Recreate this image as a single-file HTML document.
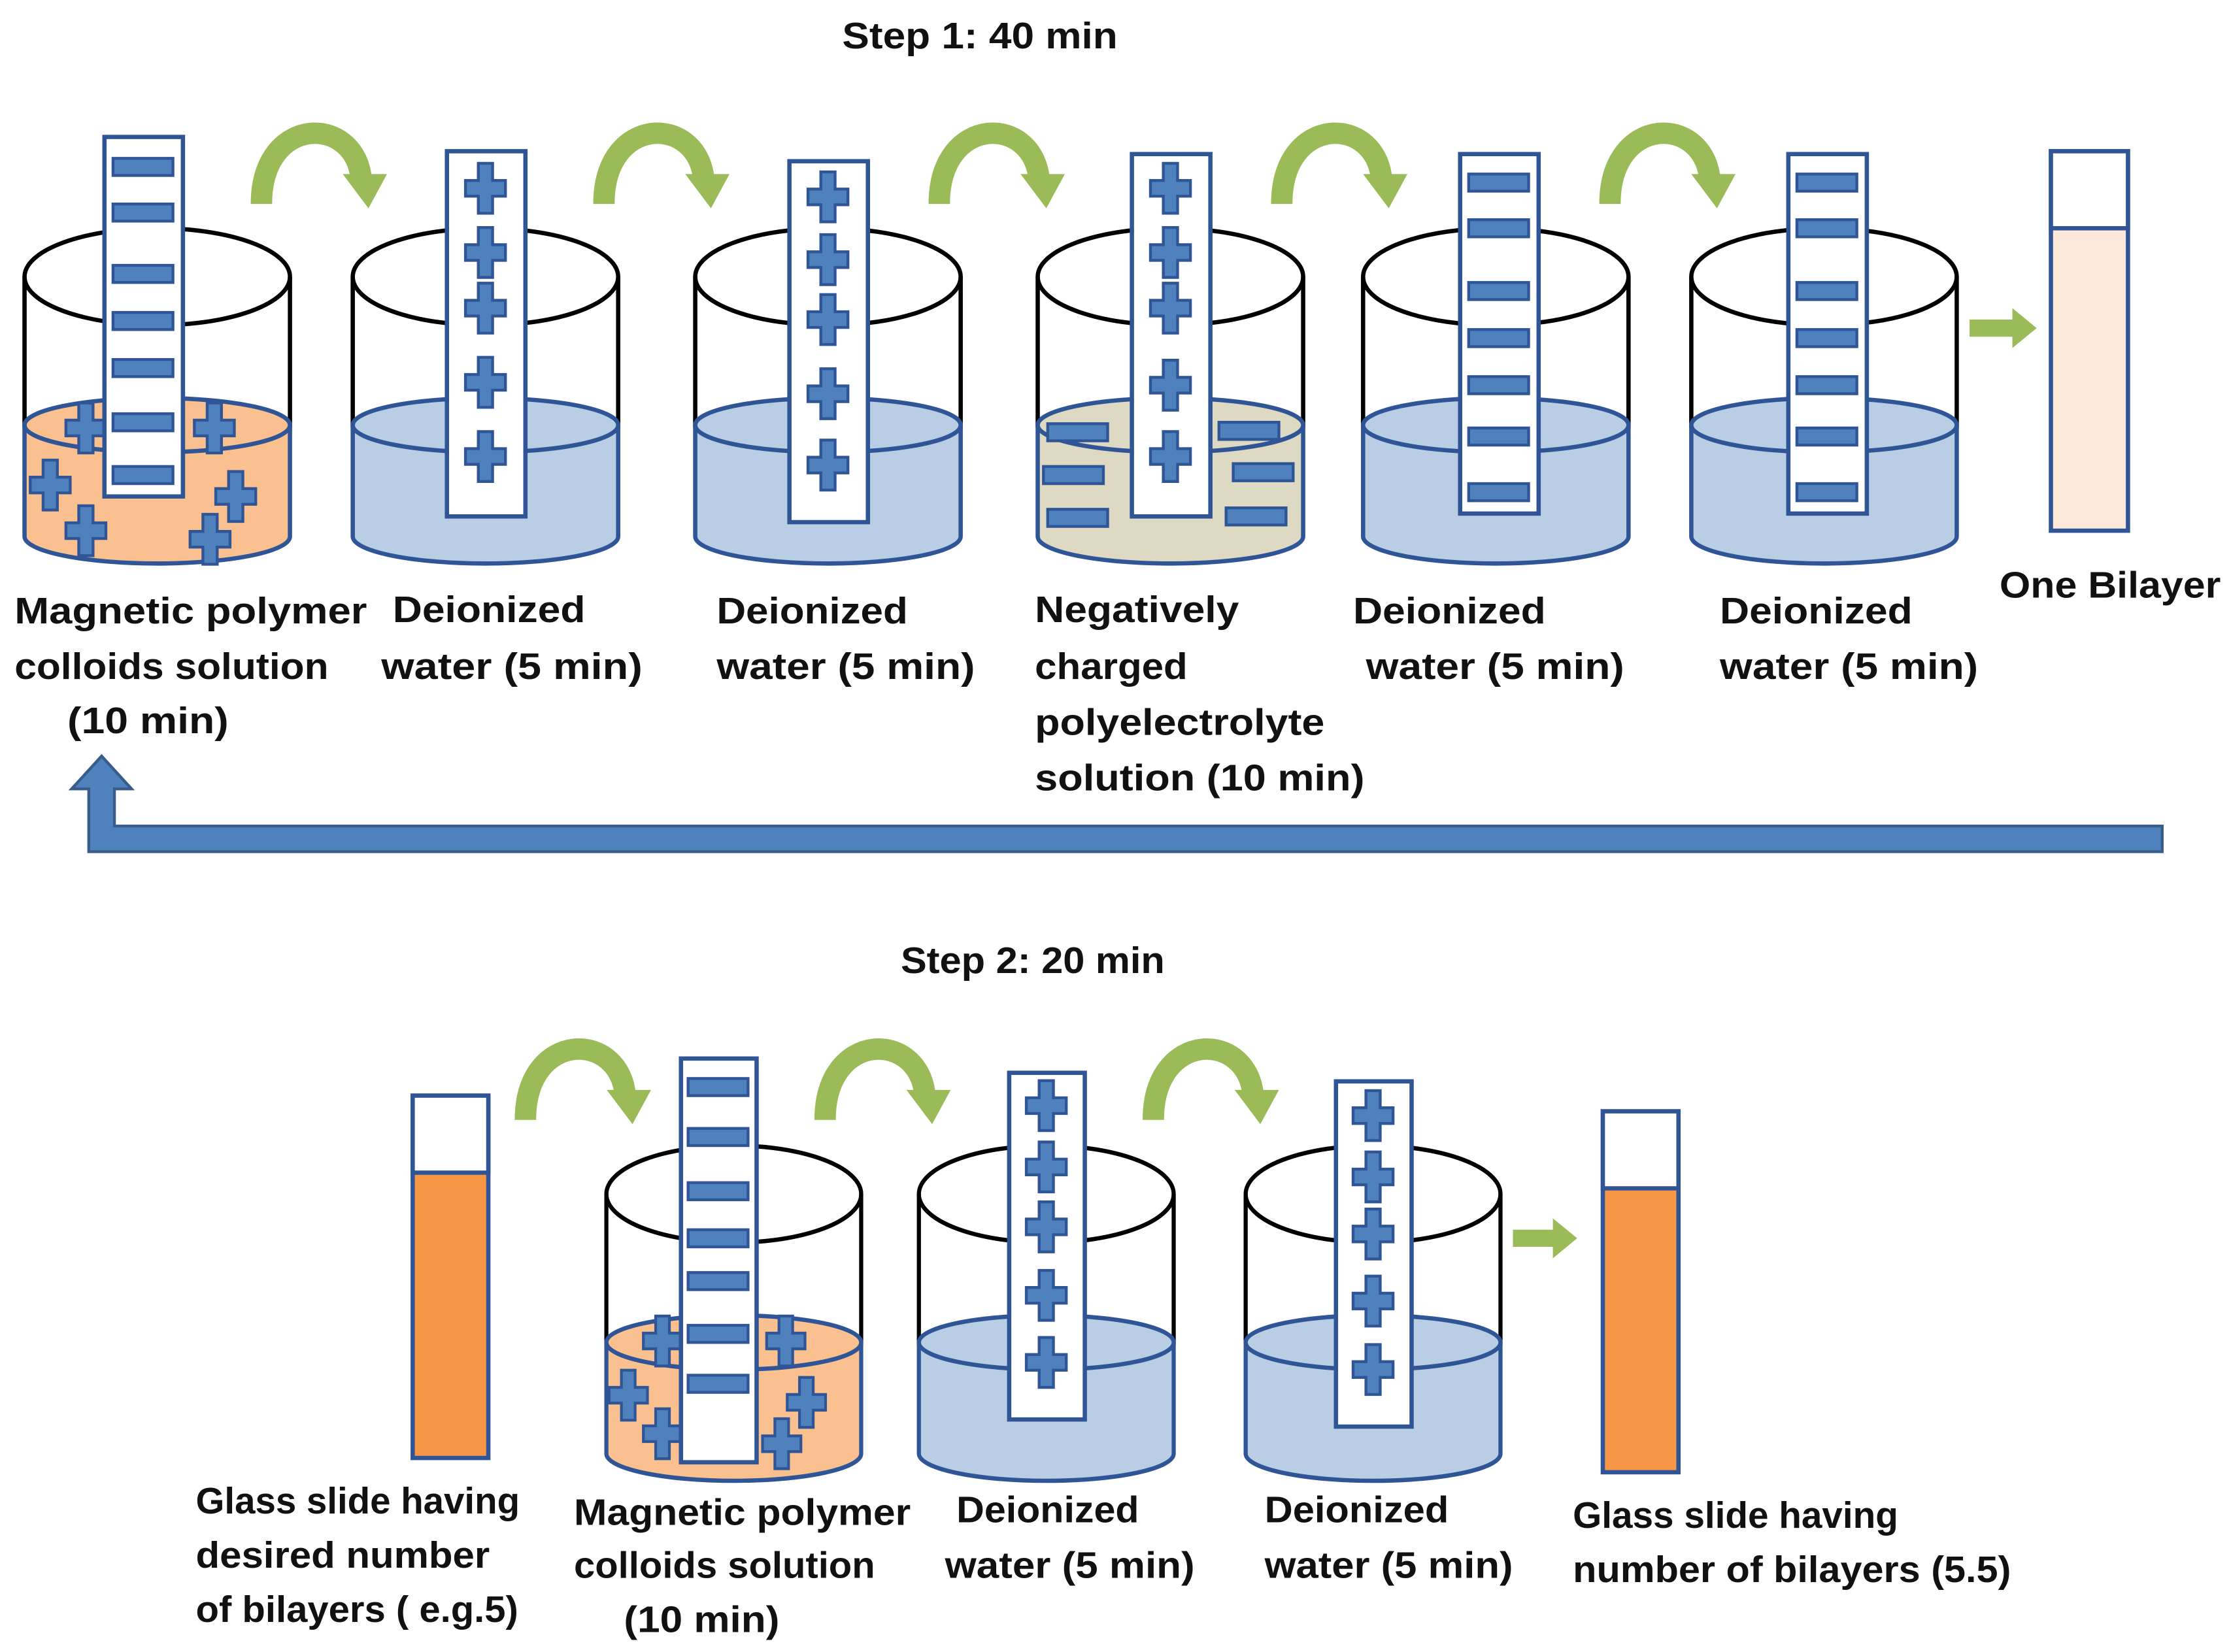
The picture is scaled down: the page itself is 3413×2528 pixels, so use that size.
<!DOCTYPE html>
<html><head><meta charset="utf-8"><style>
html,body{margin:0;padding:0;background:#fff;}
svg{display:block;}
text{font-family:"Liberation Sans",sans-serif;font-weight:bold;font-size:26px;fill:#111;}
</style></head><body>
<svg width="3413" height="2528" viewBox="0 0 1563 1158" xmlns="http://www.w3.org/2000/svg">
<defs>
<rect id="m" x="-21" y="-6" width="42" height="12" fill="#4f81bd" stroke="#2f5597" stroke-width="2"/>
<path id="p" d="M-5,-17.5h10v12h9v11h-9v12h-10v-12h-9v-11h9z" fill="#4f81bd" stroke="#2f5597" stroke-width="2"/>
<g id="ga">
<path d="M-42,143 C-42,80 24,80 28,126" fill="none" stroke="#9bbb59" stroke-width="15"/>
<polygon points="15,122 46,122 33,146" fill="#9bbb59"/>
</g>
<g id="rim">
<line x1="-93" y1="194" x2="-93" y2="300" stroke="#000" stroke-width="3"/>
<line x1="93" y1="194" x2="93" y2="300" stroke="#000" stroke-width="3"/>
<ellipse cx="0" cy="194" rx="93" ry="34" fill="none" stroke="#000" stroke-width="3"/>
</g>
</defs>

<text x="590" y="34" textLength="193" lengthAdjust="spacingAndGlyphs">Step 1: 40 min</text>
<text x="631" y="682" textLength="185" lengthAdjust="spacingAndGlyphs">Step 2: 20 min</text>

<use href="#ga" transform="translate(225,0)"/>
<use href="#ga" transform="translate(465,0)"/>
<use href="#ga" transform="translate(700,0)"/>
<use href="#ga" transform="translate(940,0)"/>
<use href="#ga" transform="translate(1170,0)"/>

<g transform="translate(110,0)">
<use href="#rim"/>
<path d="M-93,298 V376 A93,19 0 0 0 93,376 V298 Z" fill="#fac090" stroke="#2f5597" stroke-width="3"/>
<ellipse cx="0" cy="298" rx="93" ry="19" fill="#fac090" stroke="#2f5597" stroke-width="3"/>
<use href="#p" x="-50" y="300"/><use href="#p" x="40" y="300"/>
<use href="#p" x="-75" y="340"/><use href="#p" x="55" y="348"/>
<use href="#p" x="-50" y="372"/><use href="#p" x="37" y="378"/>
<rect x="-37" y="96" width="55" height="252" fill="#fff" stroke="#2f5597" stroke-width="3"/>
<use href="#m" x="-10" y="117"/><use href="#m" x="-10" y="149"/><use href="#m" x="-10" y="192"/><use href="#m" x="-10" y="225"/><use href="#m" x="-10" y="258"/><use href="#m" x="-10" y="296"/><use href="#m" x="-10" y="333"/>
</g>

<g transform="translate(340,0)">
<use href="#rim"/>
<path d="M-93,298 V376 A93,19 0 0 0 93,376 V298 Z" fill="#b9cde5" stroke="#2f5597" stroke-width="3"/>
<ellipse cx="0" cy="298" rx="93" ry="19" fill="#b9cde5" stroke="#2f5597" stroke-width="3"/>
<rect x="-27" y="106" width="55" height="256" fill="#fff" stroke="#2f5597" stroke-width="3"/>
<use href="#p" x="0" y="132"/><use href="#p" x="0" y="177"/><use href="#p" x="0" y="216"/><use href="#p" x="0" y="268"/><use href="#p" x="0" y="320"/>
</g>

<g transform="translate(580,0)">
<use href="#rim"/>
<path d="M-93,298 V376 A93,19 0 0 0 93,376 V298 Z" fill="#b9cde5" stroke="#2f5597" stroke-width="3"/>
<ellipse cx="0" cy="298" rx="93" ry="19" fill="#b9cde5" stroke="#2f5597" stroke-width="3"/>
<rect x="-27" y="113" width="55" height="253" fill="#fff" stroke="#2f5597" stroke-width="3"/>
<use href="#p" x="0" y="138"/><use href="#p" x="0" y="182"/><use href="#p" x="0" y="224"/><use href="#p" x="0" y="276"/><use href="#p" x="0" y="326"/>
</g>

<g transform="translate(820,0)">
<use href="#rim"/>
<path d="M-93,298 V376 A93,19 0 0 0 93,376 V298 Z" fill="#ddd9c3" stroke="#2f5597" stroke-width="3"/>
<ellipse cx="0" cy="298" rx="93" ry="19" fill="#ddd9c3" stroke="#2f5597" stroke-width="3"/>
<use href="#m" x="-65" y="303"/><use href="#m" x="55" y="302"/>
<use href="#m" x="-68" y="333"/><use href="#m" x="65" y="331"/>
<use href="#m" x="-65" y="363"/><use href="#m" x="60" y="362"/>
<rect x="-27" y="108" width="55" height="254" fill="#fff" stroke="#2f5597" stroke-width="3"/>
<use href="#p" x="0" y="132"/><use href="#p" x="0" y="177"/><use href="#p" x="0" y="216"/><use href="#p" x="0" y="270"/><use href="#p" x="0" y="320"/>
</g>

<g transform="translate(1048,0)">
<use href="#rim"/>
<path d="M-93,298 V376 A93,19 0 0 0 93,376 V298 Z" fill="#b9cde5" stroke="#2f5597" stroke-width="3"/>
<ellipse cx="0" cy="298" rx="93" ry="19" fill="#b9cde5" stroke="#2f5597" stroke-width="3"/>
<rect x="-25" y="108" width="55" height="252" fill="#fff" stroke="#2f5597" stroke-width="3"/>
<use href="#m" x="2" y="128"/><use href="#m" x="2" y="160"/><use href="#m" x="2" y="204"/><use href="#m" x="2" y="237"/><use href="#m" x="2" y="270"/><use href="#m" x="2" y="306"/><use href="#m" x="2" y="345"/>
</g>

<g transform="translate(1278,0)">
<use href="#rim"/>
<path d="M-93,298 V376 A93,19 0 0 0 93,376 V298 Z" fill="#b9cde5" stroke="#2f5597" stroke-width="3"/>
<ellipse cx="0" cy="298" rx="93" ry="19" fill="#b9cde5" stroke="#2f5597" stroke-width="3"/>
<rect x="-25" y="108" width="55" height="252" fill="#fff" stroke="#2f5597" stroke-width="3"/>
<use href="#m" x="2" y="128"/><use href="#m" x="2" y="160"/><use href="#m" x="2" y="204"/><use href="#m" x="2" y="237"/><use href="#m" x="2" y="270"/><use href="#m" x="2" y="306"/><use href="#m" x="2" y="345"/>
</g>

<polygon points="1380,224 1410,224 1410,216 1427,230 1410,244 1410,236 1380,236" fill="#9bbb59"/>
<rect x="1437" y="106" width="54" height="266" fill="#fde9d9" stroke="#2f5597" stroke-width="3"/>
<rect x="1437" y="106" width="54" height="54" fill="#fff" stroke="#2f5597" stroke-width="3"/>

<text x="10" y="437" textLength="247" lengthAdjust="spacingAndGlyphs">Magnetic polymer</text>
<text x="10" y="476" textLength="220" lengthAdjust="spacingAndGlyphs">colloids solution</text>
<text x="47" y="514" textLength="113" lengthAdjust="spacingAndGlyphs">(10 min)</text>
<text x="275" y="436" textLength="135" lengthAdjust="spacingAndGlyphs">Deionized</text>
<text x="267" y="476" textLength="183" lengthAdjust="spacingAndGlyphs">water (5 min)</text>
<text x="502" y="437" textLength="134" lengthAdjust="spacingAndGlyphs">Deionized</text>
<text x="502" y="476" textLength="181" lengthAdjust="spacingAndGlyphs">water (5 min)</text>
<text x="725" y="436" textLength="143" lengthAdjust="spacingAndGlyphs">Negatively</text>
<text x="725" y="476" textLength="107" lengthAdjust="spacingAndGlyphs">charged</text>
<text x="725" y="515" textLength="203" lengthAdjust="spacingAndGlyphs">polyelectrolyte</text>
<text x="725" y="554" textLength="231" lengthAdjust="spacingAndGlyphs">solution (10 min)</text>
<text x="948" y="437" textLength="135" lengthAdjust="spacingAndGlyphs">Deionized</text>
<text x="957" y="476" textLength="181" lengthAdjust="spacingAndGlyphs">water (5 min)</text>
<text x="1205" y="437" textLength="135" lengthAdjust="spacingAndGlyphs">Deionized</text>
<text x="1205" y="476" textLength="181" lengthAdjust="spacingAndGlyphs">water (5 min)</text>
<text x="1401" y="419" textLength="155" lengthAdjust="spacingAndGlyphs">One Bilayer</text>

<path d="M62,597 V553 H50 L71,530 L92,553 H80 V579 H1515 V597 Z" fill="#4f81bd" stroke="#385d8a" stroke-width="2"/>

<use href="#ga" transform="translate(410,642)"/>
<use href="#ga" transform="translate(620,642)"/>
<use href="#ga" transform="translate(850,642)"/>

<rect x="289" y="768" width="53" height="254" fill="#f79646" stroke="#2f5597" stroke-width="3"/>
<rect x="289" y="768" width="53" height="54" fill="#fff" stroke="#2f5597" stroke-width="3"/>

<g transform="translate(514,643) scale(0.96,1)">
<use href="#rim"/>
<path d="M-93,298 V376 A93,19 0 0 0 93,376 V298 Z" fill="#fac090" stroke="#2f5597" stroke-width="3"/>
<ellipse cx="0" cy="298" rx="93" ry="19" fill="#fac090" stroke="#2f5597" stroke-width="3"/>
<use href="#p" x="-52" y="297"/><use href="#p" x="38" y="297"/>
<use href="#p" x="-77" y="335"/><use href="#p" x="53" y="340"/>
<use href="#p" x="-52" y="362"/><use href="#p" x="35" y="369"/>
</g>
<rect x="477" y="742" width="53" height="283" fill="#fff" stroke="#2f5597" stroke-width="3"/>
<use href="#m" x="503" y="762"/><use href="#m" x="503" y="797"/><use href="#m" x="503" y="835"/><use href="#m" x="503" y="868"/><use href="#m" x="503" y="898"/><use href="#m" x="503" y="935"/><use href="#m" x="503" y="970"/>

<g transform="translate(733,643) scale(0.96,1)">
<use href="#rim"/>
<path d="M-93,298 V376 A93,19 0 0 0 93,376 V298 Z" fill="#b9cde5" stroke="#2f5597" stroke-width="3"/>
<ellipse cx="0" cy="298" rx="93" ry="19" fill="#b9cde5" stroke="#2f5597" stroke-width="3"/>
</g>
<rect x="707" y="752" width="53" height="243" fill="#fff" stroke="#2f5597" stroke-width="3"/>
<use href="#p" x="733" y="775"/><use href="#p" x="733" y="818"/><use href="#p" x="733" y="860"/><use href="#p" x="733" y="908"/><use href="#p" x="733" y="955"/>

<g transform="translate(962,643) scale(0.96,1)">
<use href="#rim"/>
<path d="M-93,298 V376 A93,19 0 0 0 93,376 V298 Z" fill="#b9cde5" stroke="#2f5597" stroke-width="3"/>
<ellipse cx="0" cy="298" rx="93" ry="19" fill="#b9cde5" stroke="#2f5597" stroke-width="3"/>
</g>
<rect x="936" y="758" width="53" height="242" fill="#fff" stroke="#2f5597" stroke-width="3"/>
<use href="#p" x="962" y="782"/><use href="#p" x="962" y="825"/><use href="#p" x="962" y="865"/><use href="#p" x="962" y="912"/><use href="#p" x="962" y="960"/>

<polygon points="1060,862 1088,862 1088,854 1105,868 1088,882 1088,874 1060,874" fill="#9bbb59"/>
<rect x="1123" y="779" width="53" height="253" fill="#f79646" stroke="#2f5597" stroke-width="3"/>
<rect x="1123" y="779" width="53" height="54" fill="#fff" stroke="#2f5597" stroke-width="3"/>

<text x="137" y="1061" textLength="227" lengthAdjust="spacingAndGlyphs">Glass slide having</text>
<text x="137" y="1099" textLength="206" lengthAdjust="spacingAndGlyphs">desired number</text>
<text x="137" y="1137" textLength="226" lengthAdjust="spacingAndGlyphs">of bilayers ( e.g.5)</text>
<text x="402" y="1069" textLength="236" lengthAdjust="spacingAndGlyphs">Magnetic polymer</text>
<text x="402" y="1106" textLength="211" lengthAdjust="spacingAndGlyphs">colloids solution</text>
<text x="437" y="1144" textLength="109" lengthAdjust="spacingAndGlyphs">(10 min)</text>
<text x="670" y="1067" textLength="128" lengthAdjust="spacingAndGlyphs">Deionized</text>
<text x="662" y="1106" textLength="175" lengthAdjust="spacingAndGlyphs">water (5 min)</text>
<text x="886" y="1067" textLength="129" lengthAdjust="spacingAndGlyphs">Deionized</text>
<text x="886" y="1106" textLength="174" lengthAdjust="spacingAndGlyphs">water (5 min)</text>
<text x="1102" y="1071" textLength="228" lengthAdjust="spacingAndGlyphs">Glass slide having</text>
<text x="1102" y="1109" textLength="307" lengthAdjust="spacingAndGlyphs">number of bilayers (5.5)</text>
</svg>
</body></html>
